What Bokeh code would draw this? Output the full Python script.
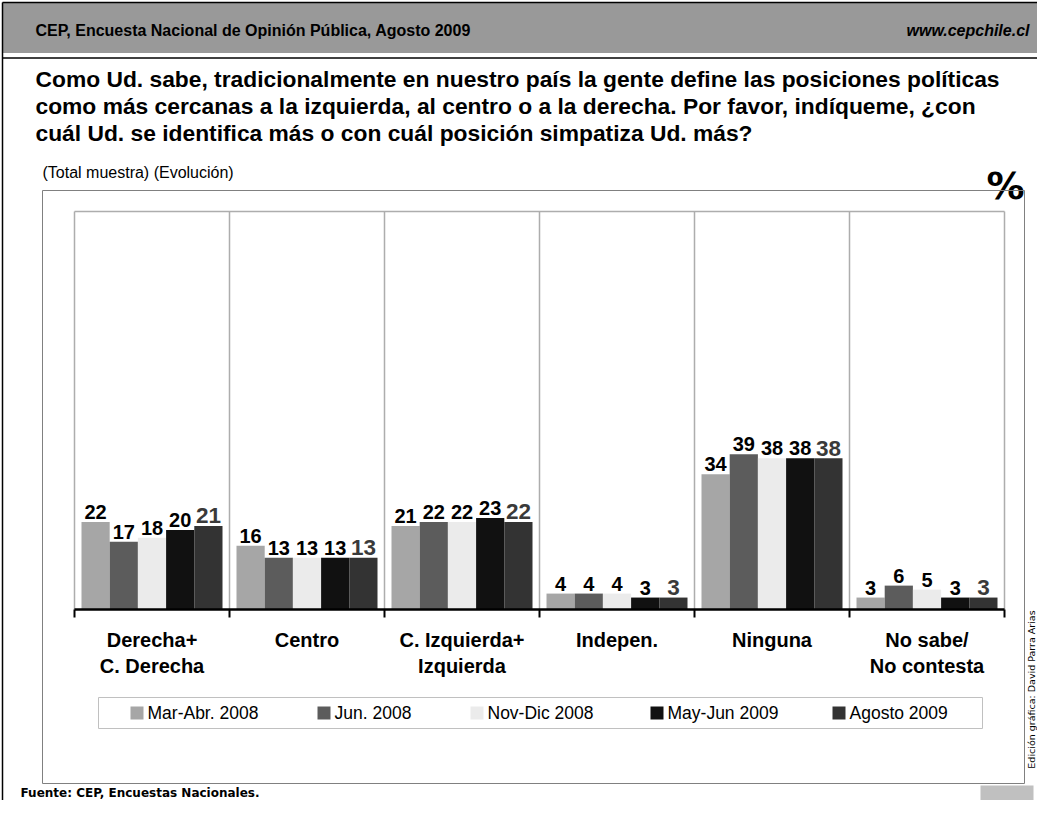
import math
from bokeh.plotting import figure
from bokeh.models import Range1d, ColumnDataSource
from bokeh.transform import dodge
from bokeh.core.properties import value
from bokeh.embed import file_html
from bokeh.resources import INLINE

# ---------------- data ----------------
CATEGORIES = ["Derecha+\nC. Derecha", "Centro", "C. Izquierda+\nIzquierda",
              "Indepen.", "Ninguna", "No sabe/\nNo contesta"]
SERIES = ["Mar-Abr. 2008", "Jun. 2008", "Nov-Dic 2008", "May-Jun 2009", "Agosto 2009"]
mar_abr_2008 = [22, 16, 21, 4, 34, 3]
jun_2008 = [17, 13, 22, 4, 39, 6]
nov_dic_2008 = [18, 13, 22, 4, 38, 5]
may_jun_2009 = [20, 13, 23, 3, 38, 3]
agosto_2009 = [21, 13, 22, 3, 38, 3]
SERIES_VALUES = [mar_abr_2008, jun_2008, nov_dic_2008, may_jun_2009, agosto_2009]
COLORS = ["#a6a6a6", "#5c5c5c", "#ebebeb", "#111111", "#333333"]

HEADER_LEFT = "CEP, Encuesta Nacional de Opinión Pública, Agosto 2009"
HEADER_RIGHT = "www.cepchile.cl"
TITLE_LINES = [
    "Como Ud. sabe, tradicionalmente en nuestro país la gente define las posiciones políticas",
    "como más cercanas a la izquierda, al centro o a la derecha. Por favor, indíqueme, ¿con",
    "cuál Ud. se identifica más o con cuál posición simpatiza Ud. más?",
]
SUBTITLE = "(Total muestra) (Evolución)"
SOURCE = "Fuente: CEP, Encuestas Nacionales."
CREDIT = "Edición gráfica: David Parra Arias"

# ---------------- layout ----------------
W, H = 1037, 800
PL, PR, PT, PB = 74, 1004, 211, 609      # plot area (canvas px)
YMAX = 100
ARIAL = value("Liberation Sans")
DEJAVU = value("DejaVu Sans")

p = figure(width=W, height=H, x_range=Range1d(0, W), y_range=Range1d(H, 0),
           x_axis_type=None, y_axis_type=None, toolbar_location=None,
           output_backend="svg", outline_line_color=None,
           min_border_left=0, min_border_right=0, min_border_top=0, min_border_bottom=0)
p.background_fill_color = "white"
p.border_fill_color = "white"

ncat = len(CATEGORIES)
ux = (PR - PL) / ncat
uy = (PB - PT) / YMAX
p.extra_x_ranges = {"cat": Range1d(-PL / ux, ncat + (W - PR) / ux)}
p.extra_y_ranges = {"val": Range1d(-(H - PB) / uy, PB / uy)}

# page decorations
p.quad(left=[2], right=[W], top=[2], bottom=[52.5], fill_color="#999999", line_color=None)
p.segment(x0=[2, 2], y0=[2, 2], x1=[W, 2], y1=[2, H], line_color="black", line_width=1.5)
p.segment(x0=[2], y0=[57.5], x1=[W], y1=[57.5], line_color="black", line_width=1.5)
p.text(x=[35], y=[30], text=[HEADER_LEFT], text_font=ARIAL, text_font_style="bold",
       text_font_size="16px", text_baseline="middle", text_color="black")
p.text(x=[1029], y=[30], text=[HEADER_RIGHT], text_font=ARIAL, text_font_style="bold italic",
       text_font_size="16px", text_baseline="middle", text_align="right", text_color="black")
p.text(x=[35] * 3, y=[78, 105, 132], text=TITLE_LINES, text_font=ARIAL,
       text_font_style="bold", text_font_size="22.8px", text_baseline="middle", text_color="black")
p.text(x=[42], y=[172], text=[SUBTITLE], text_font=ARIAL, text_font_size="16px",
       text_baseline="middle", text_color="black")
p.text(x=[1005], y=[185], text=["%"], text_font=DEJAVU, text_font_style="bold",
       text_font_size="38px", text_baseline="alphabetic", text_align="center", text_color="black")

# chart frame
p.quad(left=[42], right=[1024], top=[190], bottom=[783], fill_color=None,
       line_color="#808080", line_width=1)

# plot area grid (category boundaries) and top border
bounds = list(range(ncat + 1))
p.segment(x0=bounds, y0=[0] * len(bounds), x1=bounds, y1=[YMAX] * len(bounds),
          x_range_name="cat", y_range_name="val", line_color="#adadad", line_width=1.5)
p.segment(x0=[0], y0=[YMAX], x1=[ncat], y1=[YMAX], x_range_name="cat", y_range_name="val",
          line_color="#adadad", line_width=1.5)

# bars
nser = len(SERIES)
bw = 28.2 / ux
idx = [i + 0.5 for i in range(ncat)]
for j, (vals, col) in enumerate(zip(SERIES_VALUES, COLORS)):
    off = (j - (nser - 1) / 2) * bw
    src = ColumnDataSource(dict(idx=idx, val=vals, lbl=[str(v) for v in vals]))
    p.vbar(x=dodge("idx", off), top="val", bottom=0, width=bw, source=src,
           x_range_name="cat", y_range_name="val", fill_color=col, line_color=None)
    last = j == nser - 1
    p.text(x=dodge("idx", off), y="val", text="lbl", source=src,
           x_range_name="cat", y_range_name="val", y_offset=-10,
           text_font=ARIAL, text_font_style="bold",
           text_font_size="22.5px" if last else "20px",
           text_color="#3a3a3a" if last else "black",
           text_align="center", text_baseline="alphabetic")

# axis line & ticks
p.segment(x0=[0], y0=[0], x1=[ncat], y1=[0], x_range_name="cat", y_range_name="val",
          line_color="black", line_width=2.5)
p.segment(x0=bounds, y0=[PB] * len(bounds), x1=bounds, y1=[PB + 8] * len(bounds),
          x_range_name="cat", line_color="black", line_width=2)

# category labels
l1 = [c.split("\n")[0] for c in CATEGORIES]
l2 = [c.split("\n")[1] if "\n" in c else "" for c in CATEGORIES]
p.text(x=idx, y=[639] * ncat, text=l1, x_range_name="cat", text_font=ARIAL,
       text_font_style="bold", text_font_size="20px", text_align="center",
       text_baseline="middle", text_color="black")
p.text(x=idx, y=[665] * ncat, text=l2, x_range_name="cat", text_font=ARIAL,
       text_font_style="bold", text_font_size="20px", text_align="center",
       text_baseline="middle", text_color="black")

# legend
p.quad(left=[98], right=[982], top=[697], bottom=[728], fill_color="white",
       line_color="#c0c0c0", line_width=1)
LEG_X = [130, 317, 470, 650, 832]
LEG_Y = 712.5
p.rect(x=[x + 6.5 for x in LEG_X], y=[LEG_Y] * nser, width=13, height=13,
       fill_color=COLORS, line_color=None)
p.text(x=[x + 17 for x in LEG_X], y=[LEG_Y] * nser, text=SERIES, text_font=ARIAL,
       text_font_size="17.5px", text_baseline="middle", text_color="black")

# footer
p.text(x=[20], y=[792], text=[SOURCE], text_font=DEJAVU,
       text_font_style="bold", text_font_size="12px", text_baseline="middle", text_color="black")
p.quad(left=[980], right=[1033], top=[785], bottom=[H], fill_color="#c0c0c0", line_color=None)
p.text(x=[1030.5], y=[689], text=[CREDIT], angle=math.pi / 2, text_font=DEJAVU,
       text_font_size="9.5px", text_align="center", text_baseline="middle", text_color="black")

open("out.html", "w").write(file_html(p, INLINE))
